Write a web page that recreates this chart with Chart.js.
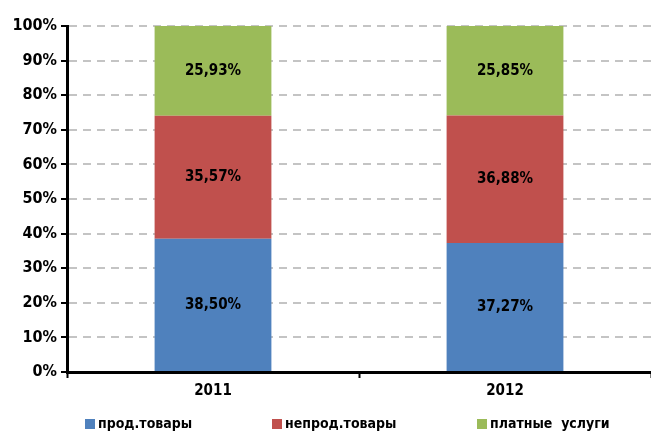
<!DOCTYPE html>
<html>
<head>
<meta charset="utf-8">
<script src="https://cdn.jsdelivr.net/npm/chart.js@4"></script>
<style>
  html, body { margin: 0; padding: 0; background: #fff; }
  #wrap { width: 651px; height: 434px; }
</style>
</head>
<body>
<div id="wrap"><canvas id="shareChart"></canvas></div>
<script>
// Structure of spending, shares in %
const years = ['2011', '2012'];
const foodGoods = [38.50, 37.27];
const nonFoodGoods = [35.57, 36.88];
const paidServices = [25.93, 25.85];
const seriesNames = ['прод.товары', 'непрод.товары', 'платные  услуги'];
const seriesColors = ['#4F81BD', '#C0504D', '#9BBB59'];

const FONT = "'Liberation Sans Narrow', 'DejaVu Sans Condensed', 'Arial Narrow', sans-serif";

// draws the % value in the middle of each bar segment
const segmentLabels = {
    id: 'segmentLabels',
    afterDatasetsDraw(chart) {
        const ctx = chart.ctx;
        ctx.save();
        ctx.font = `bold 15px ${FONT}`;
        ctx.fillStyle = '#000';
        ctx.textAlign = 'center';
        ctx.textBaseline = 'middle';
        chart.data.datasets.forEach((ds, i) => {
            chart.getDatasetMeta(i).data.forEach((bar, j) => {
                const p = bar.getProps(['x', 'y', 'base'], true);
                const txt = ds.data[j].toFixed(2).replace('.', ',') + '%';
                ctx.fillText(txt, p.x, (p.y + p.base) / 2);
            });
        });
        ctx.restore();
    }
};

// legend row under the axis, spaced like the original
const bottomLegend = {
    id: 'bottomLegend',
    afterDraw(chart) {
        const ctx = chart.ctx;
        const starts = [85, 272, 477];
        const y = 424;
        ctx.save();
        ctx.font = `bold 14px ${FONT}`;
        ctx.textBaseline = 'middle';
        ctx.textAlign = 'left';
        chart.data.datasets.forEach((ds, i) => {
            ctx.fillStyle = ds.backgroundColor;
            ctx.fillRect(starts[i], y - 5, 10, 10);
            ctx.fillStyle = '#000';
            ctx.fillText(ds.label, starts[i] + 13, y);
        });
        ctx.restore();
    }
};

new Chart(document.getElementById('shareChart'), {
    type: 'bar',
    data: {
        labels: years,
        datasets: [
            { label: seriesNames[0], data: foodGoods, backgroundColor: seriesColors[0] },
            { label: seriesNames[1], data: nonFoodGoods, backgroundColor: seriesColors[1] },
            { label: seriesNames[2], data: paidServices, backgroundColor: seriesColors[2] }
        ]
    },
    options: {
        responsive: true,
        maintainAspectRatio: false,
        animation: false,
        categoryPercentage: 0.4,
        barPercentage: 1,
        layout: {
            padding: { top: 26, right: 0, left: 0, bottom: 30 }
        },
        plugins: {
            title: { display: false },
            tooltip: { enabled: false },
            legend: { display: false }
        },
        scales: {
            x: {
                stacked: true,
                grid: {
                    drawOnChartArea: false,
                    offset: true,
                    tickLength: 6,
                    tickColor: '#000',
                    tickWidth: 2
                },
                border: { color: '#000', width: 3 },
                ticks: {
                    color: '#000',
                    padding: 4,
                    font: { family: FONT, size: 15, weight: 'bold' }
                }
            },
            y: {
                stacked: true,
                min: 0,
                max: 100,
                afterFit: s => { s.width = 67; },
                grid: {
                    color: c => c.tick.value === 0 ? 'rgba(0,0,0,0)' : '#C4C4C4',
                    lineWidth: 2,
                    tickLength: 6,
                    tickColor: '#000',
                    tickWidth: 2
                },
                border: { color: '#000', width: 3, dash: [8, 6] },
                ticks: {
                    stepSize: 10,
                    autoSkip: false,
                    color: '#000',
                    padding: 4,
                    font: { family: FONT, size: 16, weight: 'bold' },
                    callback: v => v + '%'
                }
            }
        }
    },
    plugins: [segmentLabels, bottomLegend]
});
</script>
</body>
</html>
